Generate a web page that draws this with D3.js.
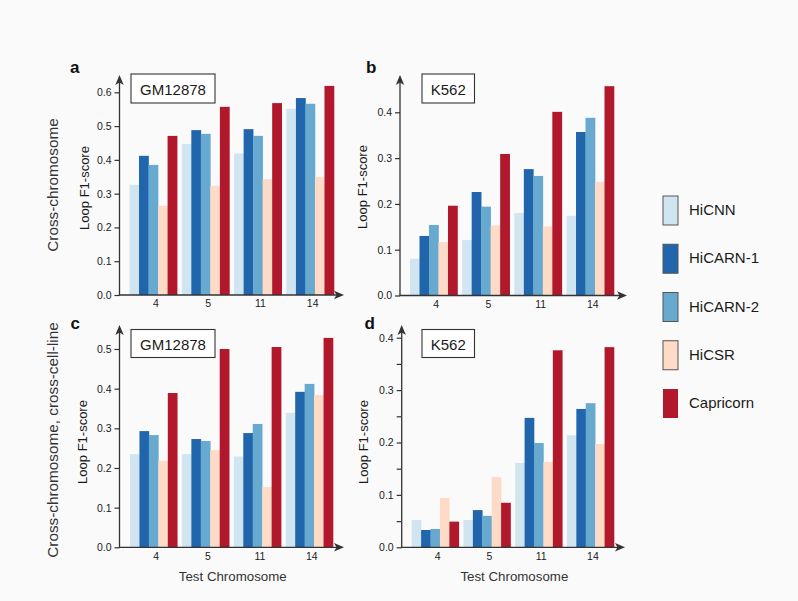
<!DOCTYPE html>
<html>
<head>
<meta charset="utf-8">
<script src="https://cdn.jsdelivr.net/npm/d3@7"></script>
<style>
  html, body { margin: 0; padding: 0; background: #fafafa; }
  svg { display: block; font-family: "Liberation Sans", Arial, Helvetica, sans-serif; }
</style>
</head>
<body>
<svg id="chart" width="798" height="601"></svg>
<script>
// ---------- data ----------
const chromosomes = ["4", "5", "11", "14"];
const methods = ["HiCNN", "HiCARN-1", "HiCARN-2", "HiCSR", "Capricorn"];
const methodColors = ["#d1e5f0", "#2166ac", "#67a9cf", "#fddbc7", "#b2182b"];

// panel a: GM12878, cross-chromosome
const aHiCNN     = [0.326, 0.447, 0.419, 0.551];
const aHiCARN1   = [0.412, 0.488, 0.491, 0.583];
const aHiCARN2   = [0.385, 0.477, 0.471, 0.566];
const aHiCSR     = [0.264, 0.323, 0.343, 0.349];
const aCapricorn = [0.471, 0.557, 0.568, 0.619];
// panel b: K562, cross-chromosome
const bHiCNN     = [0.080, 0.121, 0.180, 0.174];
const bHiCARN1   = [0.130, 0.226, 0.276, 0.357];
const bHiCARN2   = [0.154, 0.194, 0.261, 0.388];
const bHiCSR     = [0.117, 0.153, 0.151, 0.248];
const bCapricorn = [0.196, 0.309, 0.401, 0.457];
// panel c: GM12878, cross-chromosome, cross-cell-line
const cHiCNN     = [0.235, 0.235, 0.229, 0.339];
const cHiCARN1   = [0.293, 0.273, 0.288, 0.392];
const cHiCARN2   = [0.283, 0.268, 0.311, 0.412];
const cHiCSR     = [0.218, 0.245, 0.152, 0.384];
const cCapricorn = [0.389, 0.500, 0.505, 0.528];
// panel d: K562, cross-chromosome, cross-cell-line
const dHiCNN     = [0.052, 0.052, 0.161, 0.214];
const dHiCARN1   = [0.033, 0.071, 0.247, 0.264];
const dHiCARN2   = [0.035, 0.060, 0.199, 0.275];
const dHiCSR     = [0.094, 0.134, 0.163, 0.197];
const dCapricorn = [0.049, 0.085, 0.376, 0.382];

const aTicks = [0, 0.1, 0.2, 0.3, 0.4, 0.5, 0.6];
const bTicks = [0, 0.1, 0.2, 0.3, 0.4];
const cTicks = [0, 0.1, 0.2, 0.3, 0.4, 0.5];
const dTicks = [0, 0.05, 0.1, 0.15, 0.2, 0.25, 0.3, 0.35, 0.4];

// ---------- layout ----------
const svg = d3.select("#chart");
const axisColor = "#333";
const textColor = "#1a1a1a";

const panels = [
  { letter: "a", cell: "GM12878", series: [aHiCNN, aHiCARN1, aHiCARN2, aHiCSR, aCapricorn],
    ticks: aTicks, top: 0.6, ax: 119.5, base: 295, topY: 92.3, arrowTop: 75, arrowRight: 344,
    bx0: 129.5, bx1: 334, lx: 70, ly: 73, box: [131, 74, 84, 29], ylabX: 84, ylabY: 188, xlabel: false },
  { letter: "b", cell: "K562", series: [bHiCNN, bHiCARN1, bHiCARN2, bHiCSR, bCapricorn],
    ticks: bTicks, top: 0.4, ax: 400, base: 295.5, topY: 112.3, arrowTop: 75, arrowRight: 627,
    bx0: 410, bx1: 614, lx: 366, ly: 73, box: [422, 74, 52.5, 29], ylabX: 362, ylabY: 187, xlabel: false },
  { letter: "c", cell: "GM12878", series: [cHiCNN, cHiCARN1, cHiCARN2, cHiCSR, cCapricorn],
    ticks: cTicks, top: 0.5, ax: 119.5, base: 547.3, topY: 349, arrowTop: 325, arrowRight: 344,
    bx0: 130, bx1: 333, lx: 70.5, ly: 328.5, box: [131, 329.5, 84, 28], ylabX: 82, ylabY: 442, xlabel: true },
  { letter: "d", cell: "K562", series: [dHiCNN, dHiCARN1, dHiCARN2, dHiCSR, dCapricorn],
    ticks: dTicks, top: 0.4, ax: 401.7, base: 547.3, topY: 337.7, arrowTop: 325, arrowRight: 625,
    bx0: 411.7, bx1: 614, lx: 364.5, ly: 328.5, box: [422, 329.5, 52.5, 28], ylabX: 363, ylabY: 442, xlabel: true }
];

panels.forEach(p => {
  const g = svg.append("g");
  const y = d3.scaleLinear().domain([0, p.top]).range([p.base, p.topY]);
  const x0 = d3.scaleBand().domain(chromosomes).range([p.bx0, p.bx1]).paddingInner(0.09).paddingOuter(0);
  const x1 = d3.scaleBand().domain(methods).range([0, x0.bandwidth()]).padding(0);

  // bars
  chromosomes.forEach((chr, ci) => {
    methods.forEach((m, mi) => {
      const v = p.series[mi][ci];
      g.append("rect")
        .attr("x", x0(chr) + x1(m))
        .attr("y", y(v))
        .attr("width", x1.bandwidth() + 0.3)
        .attr("height", y(0) - y(v))
        .attr("fill", methodColors[mi]);
    });
  });

  // y axis ticks & labels via d3 axis
  const yAxis = d3.axisLeft(y).tickValues(p.ticks).tickSize(5).tickPadding(3)
    .tickFormat(d => (Math.round(d * 100) % 10 === 0) ? d3.format(".1f")(d) : "");
  const ya = g.append("g").attr("transform", `translate(${p.ax},0)`).call(yAxis);
  ya.select(".domain").remove();
  ya.selectAll(".tick line").attr("stroke", axisColor).attr("stroke-width", 1.2);
  ya.selectAll(".tick text").attr("fill", textColor).style("font-size", "10.5px")
    .style("font-family", "'Liberation Sans', Arial, sans-serif");

  // x axis labels via d3 axis (no tick lines)
  const xAxis = d3.axisBottom(x0).tickSize(0).tickPadding(5);
  const xa = g.append("g").attr("transform", `translate(2.5,${p.base})`).call(xAxis);
  xa.select(".domain").remove();
  xa.selectAll(".tick text").attr("fill", textColor).style("font-size", "10.5px")
    .style("font-family", "'Liberation Sans', Arial, sans-serif");

  // axis lines with arrows
  g.append("line").attr("x1", p.ax).attr("x2", p.ax).attr("y1", p.base + 0.6).attr("y2", p.arrowTop + 6)
    .attr("stroke", axisColor).attr("stroke-width", 1.3);
  g.append("path")
    .attr("d", `M${p.ax},${p.arrowTop} L${p.ax - 4.2},${p.arrowTop + 10} L${p.ax},${p.arrowTop + 7.5} L${p.ax + 4.2},${p.arrowTop + 10} Z`)
    .attr("fill", axisColor);
  g.append("line").attr("x1", p.ax - 0.6).attr("x2", p.arrowRight - 6).attr("y1", p.base).attr("y2", p.base)
    .attr("stroke", axisColor).attr("stroke-width", 1.3);
  g.append("path")
    .attr("d", `M${p.arrowRight},${p.base} L${p.arrowRight - 10},${p.base - 4.2} L${p.arrowRight - 7.5},${p.base} L${p.arrowRight - 10},${p.base + 4.2} Z`)
    .attr("fill", axisColor);

  // y axis title
  g.append("text")
    .attr("transform", `translate(${p.ylabX},${p.ylabY}) rotate(-90)`)
    .attr("text-anchor", "middle").attr("dominant-baseline", "central")
    .attr("fill", textColor).style("font-size", "13px")
    .text("Loop F1-score");

  if (p.xlabel) {
    g.append("text")
      .attr("x", (p.ax + p.arrowRight) / 2 + 1).attr("y", p.base + 34)
      .attr("text-anchor", "middle").attr("fill", "#333").style("font-size", "13.3px")
      .text("Test Chromosome");
  }

  // panel letter
  g.append("text").attr("x", p.lx).attr("y", p.ly)
    .attr("fill", "#111").style("font-size", "17px").style("font-weight", "bold")
    .text(p.letter);

  // cell line box
  g.append("rect").attr("x", p.box[0]).attr("y", p.box[1]).attr("width", p.box[2]).attr("height", p.box[3])
    .attr("fill", "#ffffff").attr("stroke", "#333").attr("stroke-width", 1.1);
  g.append("text").attr("x", p.box[0] + p.box[2] / 2).attr("y", p.box[1] + p.box[3] / 2 + 0.5)
    .attr("text-anchor", "middle").attr("dominant-baseline", "central")
    .attr("fill", textColor).style("font-size", "15px")
    .text(p.cell);
});

// row labels
svg.append("text")
  .attr("transform", "translate(52,185) rotate(-90)")
  .attr("text-anchor", "middle").attr("dominant-baseline", "central")
  .attr("fill", "#333").style("font-size", "15.3px")
  .text("Cross-chromosome");
svg.append("text")
  .attr("transform", "translate(52,440) rotate(-90)")
  .attr("text-anchor", "middle").attr("dominant-baseline", "central")
  .attr("fill", "#333").style("font-size", "15.3px")
  .text("Cross-chromosome, cross-cell-line");

// legend
const legendY = d3.scalePoint().domain(methods).range([196, 389]);
const legend = svg.append("g");
methods.forEach((m, i) => {
  legend.append("rect")
    .attr("x", 663).attr("y", legendY(m)).attr("width", 15).attr("height", 29)
    .attr("fill", methodColors[i])
    .attr("stroke", m === "Capricorn" ? "none" : "#555").attr("stroke-width", 1);
  legend.append("text")
    .attr("x", 689).attr("y", legendY(m) + 13.5)
    .attr("dominant-baseline", "central")
    .attr("fill", textColor).style("font-size", "15px")
    .text(m);
});
</script>
</body>
</html>
